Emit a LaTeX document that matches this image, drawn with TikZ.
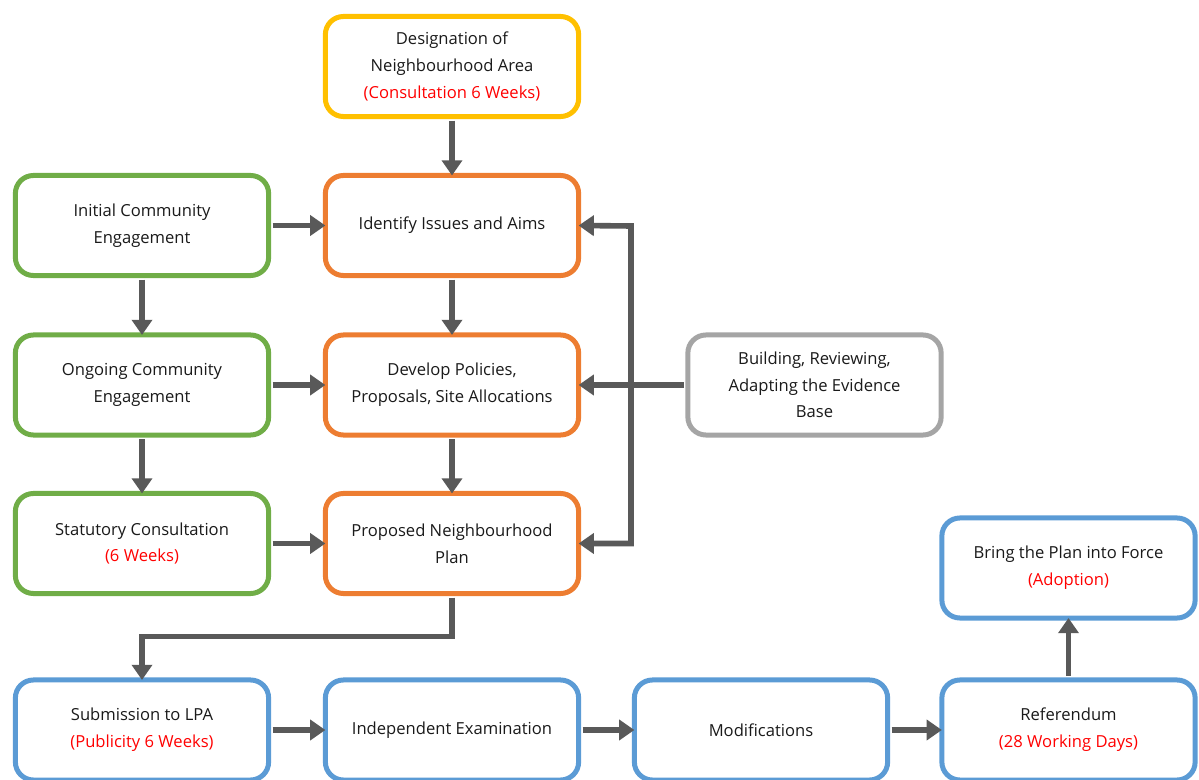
\documentclass[tikz,border=0pt]{standalone}
\usepackage{fontspec}
\setmainfont{Open Sans}
\usepackage{tikz}
\usetikzlibrary{arrows.meta}
\definecolor{yel}{HTML}{FFC000}
\definecolor{grn}{HTML}{70AD47}
\definecolor{org}{HTML}{ED7D31}
\definecolor{gry}{HTML}{A5A5A5}
\definecolor{blu}{HTML}{5B9BD5}
\definecolor{arr}{HTML}{595959}
\definecolor{txt}{HTML}{1A1A1A}
\definecolor{note}{HTML}{FF0000}
\begin{document}
\begin{tikzpicture}[x=0.025cm, y=-0.025cm, >={Triangle[length=0.38cm,width=0.5cm]},
  box/.style={draw, rounded corners=0.45cm, line width=0.125cm, fill=white, text=txt,
    minimum width=6.33cm, minimum height=2.5cm, inner sep=0pt, outer sep=0pt,
    align=center, font=\fontsize{11.8}{19}\selectfont},
  link/.style={->, draw=arr, line width=0.14cm, shorten <=0.1cm}]
\useasboundingbox (0,0) rectangle (1199,780);
\node[box, draw=yel] (designation) at (452,66.5) {Designation of\\Neighbourhood Area\\\textcolor{note}{(Consultation 6 Weeks)}};
\node[box, draw=grn] (initial) at (142,225.5) {Initial Community\\Engagement};
\node[box, draw=org] (identify) at (452,225.5) {Identify Issues and Aims};
\node[box, draw=grn] (ongoing) at (142,385) {Ongoing Community\\Engagement};
\node[box, draw=org] (develop) at (452,385) {Develop Policies,\\Proposals, Site Allocations};
\node[box, draw=gry] (evidence) at (814.5,385) {Building, Reviewing,\\Adapting the Evidence\\Base};
\node[box, draw=grn] (statutory) at (142,543.5) {Statutory Consultation\\\textcolor{note}{(6 Weeks)}};
\node[box, draw=org] (proposed) at (452,543.5) {Proposed Neighbourhood\\Plan};
\node[box, draw=blu] (force) at (1068.5,568) {Bring the Plan into Force\\\textcolor{note}{(Adoption)}};
\node[box, draw=blu] (submission) at (142,730) {Submission to LPA\\\textcolor{note}{(Publicity 6 Weeks)}};
\node[box, draw=blu] (examination) at (452,730) {Independent Examination};
\node[box, draw=blu] (modifications) at (761,730) {Modifications};
\node[box, draw=blu] (referendum) at (1068.5,730) {Referendum\\\textcolor{note}{(28 Working Days)}};
\coordinate (jt) at (631,226);
\coordinate (jb) at (631,543.5);
\draw[link] (designation) -- (identify);
\draw[link] (initial) -- (identify);
\draw[link] (initial) -- (ongoing);
\draw[link] (identify) -- (develop);
\draw[link] (ongoing) -- (develop);
\draw[link] (ongoing) -- (statutory);
\draw[link] (develop) -- (proposed);
\draw[link] (statutory) -- (proposed);
\draw[link] (evidence) -- (develop);
\draw[link, <->, shorten <=0pt] (identify.east) -- (jt) -- (jb) -- (proposed.east);
\draw[link] (proposed.south) -- ++(0,43) -| (submission.north);
\draw[link] (submission) -- (examination);
\draw[link] (examination) -- (modifications);
\draw[link] (modifications) -- (referendum);
\draw[link] (referendum) -- (force);
\end{tikzpicture}
\end{document}
